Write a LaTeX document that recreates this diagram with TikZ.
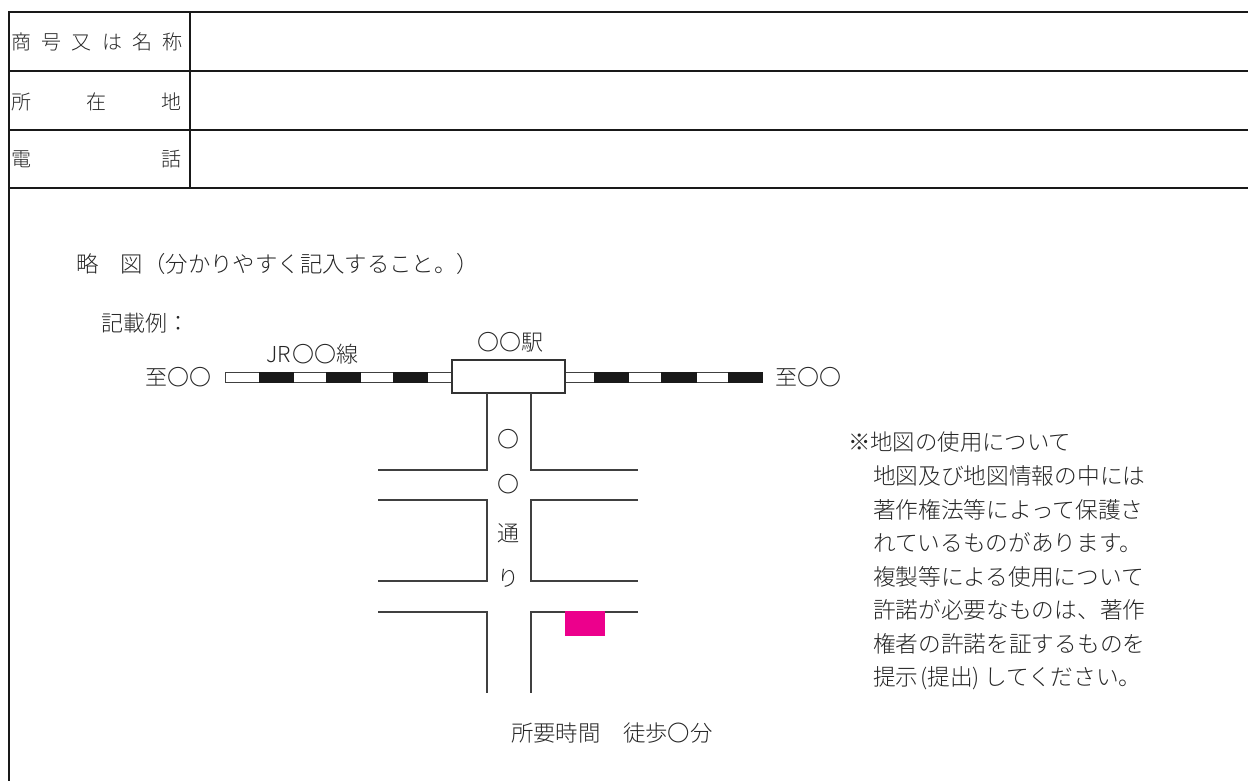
\documentclass[tikz,border=0pt]{standalone}
\usepackage{fontspec}
\setmainfont{Noto Sans CJK JP}[UprightFont=* Light]
\begin{document}
\begin{tikzpicture}[x=1pt,y=-1pt,
  rule/.style={line width=1.8pt,draw=black!90},
  thin line/.style={line width=1.1pt,draw=black!75,line cap=butt},
  txt/.style={inner sep=0pt,outer sep=0pt,text=black!85,anchor=west,text height=16.5pt,text depth=0pt,font=\fontsize{22}{22}\selectfont},
  wide/.style={txt,font=\fontsize{22.4}{22}\selectfont},
  note/.style={txt,font=\fontsize{22.7}{22}\selectfont},
  cell/.style={txt,font=\fontsize{20}{20}\selectfont,text height=15pt},
  railw/.style={draw=black!75,line width=1pt,fill=white},
  railb/.style={fill=black!90,draw=black!90,line width=.6pt}]
\useasboundingbox (0,0) rectangle (1248,781);
% table
\draw[rule] (1248,12) -- (9,12) -- (9,781);
\draw[rule] (9,71) -- (1248,71);
\draw[rule] (9,130) -- (1248,130);
\draw[rule] (9,188) -- (1248,188);
\draw[rule] (190,12) -- (190,188);
\node[cell] (t1) at (11,42) {\makebox[172pt][s]{商\hfill 号\hfill 又\hfill は\hfill 名\hfill 称}};
\node[cell] (t2) at (11,102) {\makebox[171pt][s]{所\hfill 在\hfill 地}};
\node[cell] (t3) at (11,159) {\makebox[171pt][s]{電\hfill 話}};
% headings
\node[wide] (h1) at (76,264) {略　図（分かりやすく記入すること。）};
\node[txt] (h2) at (101,323) {記載例：};
% railway
\draw[railw] (225,372) rectangle (452,382);
\draw[railw] (565,372) rectangle (762,382);
\foreach \a/\b in {259/293,326/360,393/427,594/628,661/696,728/762}
  \fill[railb] (\a,372) rectangle (\b,382);
\draw[line width=1.2pt,draw=black!80,fill=white] (452,360) rectangle (565,393);
\node[txt] (jr) at (266,354) {JR\hspace{2pt}〇〇線};
\node[txt] (st) at (477,342) {〇〇駅};
\node[txt] (to1) at (145,377) {至〇〇};
\node[txt] (to2) at (775,377) {至〇〇};
% roads
\draw[thin line] (487,393) -- (487,470) -- (378,470);
\draw[thin line] (531,393) -- (531,470) -- (638,470);
\draw[thin line] (378,500) -- (487,500) -- (487,581) -- (378,581);
\draw[thin line] (638,500) -- (531,500) -- (531,581) -- (638,581);
\draw[thin line] (378,612) -- (487,612) -- (487,693);
\draw[thin line] (638,612) -- (531,612) -- (531,693);
\fill[fill={rgb,255:red,236;green,0;blue,140}] (565,611) rectangle (605,636);
\node[txt,anchor=center] (r1) at (508,439) {〇};
\node[txt,anchor=center] (r2) at (508,484) {〇};
\node[txt,anchor=center] (r3) at (508,533) {通};
\node[txt,anchor=center] (r4) at (508,578) {り};
\node[wide] (time) at (511,733) {所要時間　徒歩〇分};
% note
\node[wide] (n0) at (848,442) {※地図の使用について};
\node[note] (n1) at (873,476) {地図及び地図情報の中には};
\node[note] (n2) at (873,510) {著作権法等によって保護さ};
\node[note] (n3) at (873,543) {れているものがあります。};
\node[note] (n4) at (873,577) {複製等による使用について};
\node[note] (n5) at (873,610) {許諾が必要なものは、著作};
\node[note] (n6) at (873,644) {権者の許諾を証するものを};
\node[note] (n7) at (873,677) {提示\hspace{2pt}(提出)\hspace{4pt}してください。};
\end{tikzpicture}
\end{document}
